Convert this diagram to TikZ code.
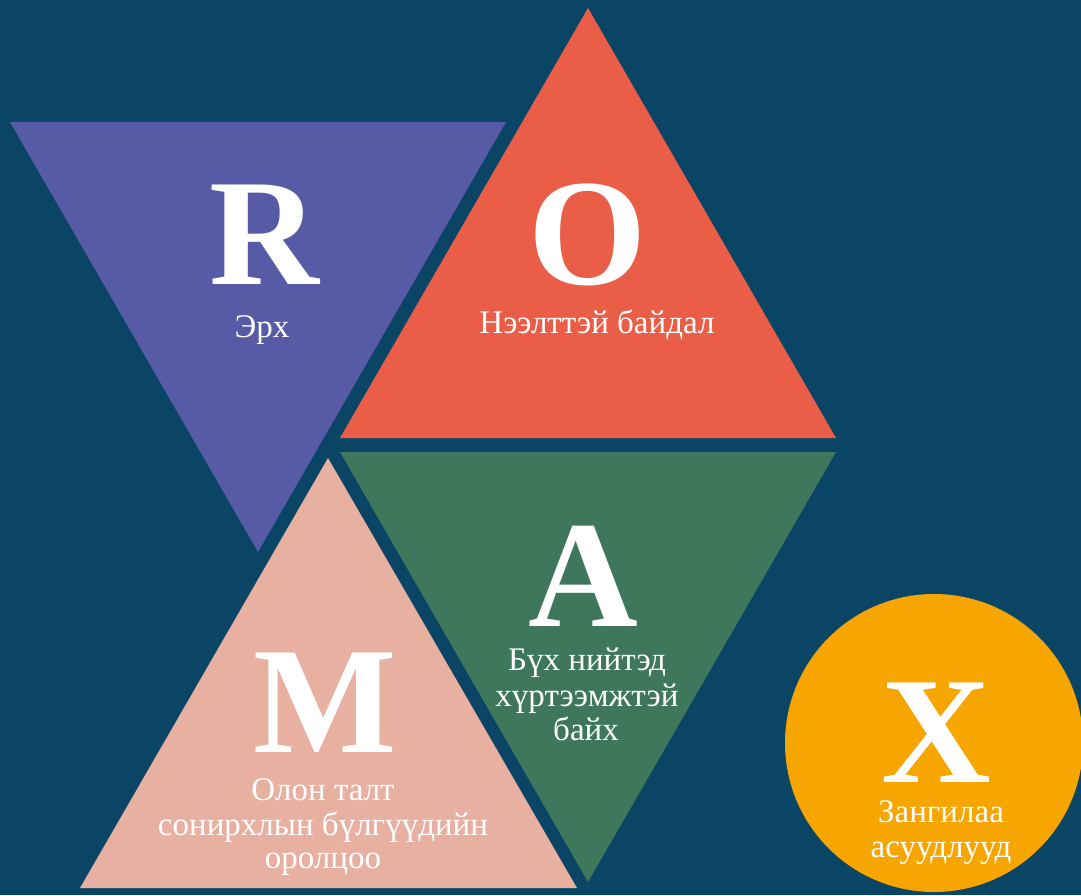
\documentclass[tikz,border=0pt]{standalone}
\usepackage{fontspec}
\setmainfont{Liberation Serif}
\definecolor{bgblue}{HTML}{0B4566}
\definecolor{triPurple}{HTML}{575AA5}
\definecolor{triRed}{HTML}{EA5E48}
\definecolor{triGreen}{HTML}{3E775B}
\definecolor{triPink}{HTML}{E8B0A0}
\definecolor{discOrange}{HTML}{F7A500}
\begin{document}
\begin{tikzpicture}[x=1pt,y=-1pt,
  bigletter/.style={text=white,inner sep=0pt,anchor=base,text depth=0pt,text height=100pt,font=\fontsize{152}{152}\selectfont\bfseries},
  caption/.style={text=white,inner sep=0pt,anchor=base,text depth=2pt,text height=18pt,font=\fontsize{33}{35}\selectfont}]
\fill[bgblue] (0,0) rectangle (1081,895);
\clip (0,0) rectangle (1081,895);
\useasboundingbox (0,0) rectangle (1081,895);
% triangles
\fill[triPurple] (10,122) -- (506,122) -- (258,552) -- cycle;
\fill[triRed] (588,8) -- (836,438) -- (340,438) -- cycle;
\fill[triGreen] (340,452) -- (836,452) -- (588,882) -- cycle;
\fill[triPink] (328,458) -- (577,888) -- (80,888) -- cycle;
\fill[discOrange] (934,743) circle (149);
% letters
\node[bigletter] (R) at (264,284) {R};
\node[bigletter] (O) at (588,284) {O};
\node[bigletter] (A) at (583,626) {A};
\node[bigletter] (M) at (325,752) {M};
\node[bigletter] (X) at (936,782) {X};
% captions
\node[caption] (r1) at (262,337) {Эрх};
\node[caption] (o1) at (597,333) {Нээлттэй байдал};
\node[caption] (a1) at (587,670) {Бүх нийтэд};
\node[caption] (a2) at (587,706) {хүртээмжтэй};
\node[caption] (a3) at (586,740) {байх};
\node[caption] (m1) at (323,800) {Олон талт};
\node[caption] (m2) at (323,835) {сонирхлын бүлгүүдийн};
\node[caption] (m3) at (323,868) {оролцоо};
\node[caption] (x1) at (941,822) {Зангилаа};
\node[caption] (x2) at (941,857) {асуудлууд};
\end{tikzpicture}
\end{document}
